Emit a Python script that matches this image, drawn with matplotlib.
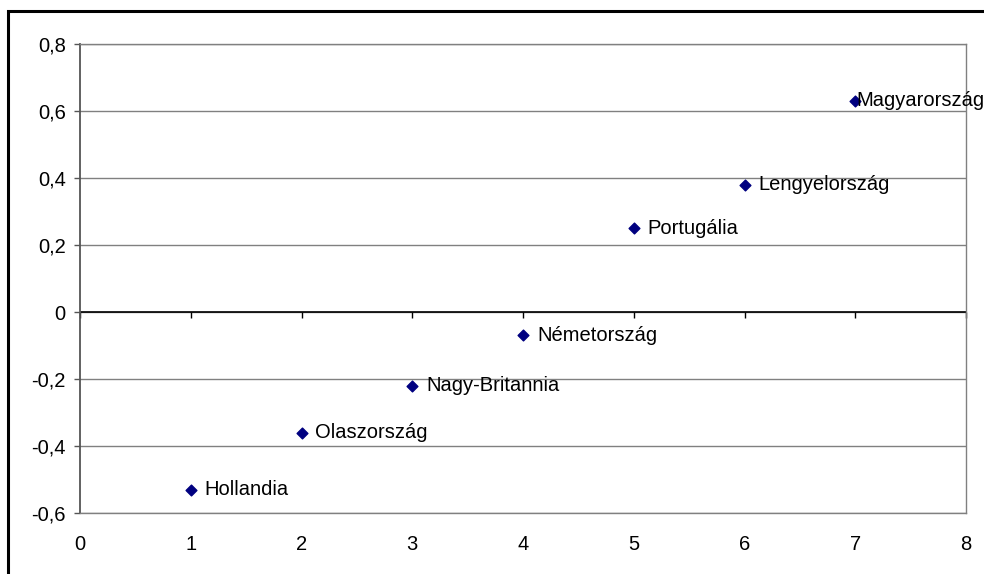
import matplotlib.pyplot as plt
from matplotlib.patches import Rectangle
from matplotlib.ticker import FixedLocator

# country ranking data
countries = ['Hollandia', 'Olaszország', 'Nagy-Britannia', 'Németország',
             'Portugália', 'Lengyelország', 'Magyarország']
x_vals = [1, 2, 3, 4, 5, 6, 7]
y_vals = [-0.53, -0.36, -0.22, -0.07, 0.25, 0.38, 0.63]
y_ticks = [-0.6, -0.4, -0.2, 0, 0.2, 0.4, 0.6, 0.8]
x_ticks = [0, 1, 2, 3, 4, 5, 6, 7, 8]

plt.rcParams['font.family'] = ['Liberation Sans', 'DejaVu Sans']

W, H = 984, 574
fig = plt.figure(figsize=(W / 100, H / 100), dpi=100)

# outer chart border (runs off the right and bottom edges)
fig.patches.append(Rectangle((8 / W, -0.1), 1.2, 1 - 11 / H + 0.1,
                             transform=fig.transFigure, fill=False,
                             edgecolor='black', linewidth=2.2))

ax = fig.add_axes([80 / W, (H - 513) / H, (966 - 80) / W, (513 - 44) / H])
ax.set_xlim(0, 8)
ax.set_ylim(-0.6, 0.8)

for yt in y_ticks:
    ax.axhline(yt, color='#808080', linewidth=1.0, zorder=0)
ax.axhline(0, color='black', linewidth=1.2, zorder=1)

for name in ['right', 'bottom', 'top']:
    ax.spines[name].set_color('#808080')
    ax.spines[name].set_linewidth(1.0)
ax.spines['left'].set_color('#555555')
ax.spines['left'].set_linewidth(1.3)

ax.set_yticks(y_ticks)
ax.set_yticklabels([('%g' % v).replace('.', ',') for v in y_ticks])
ax.tick_params(axis='y', direction='out', length=4.3, width=1, color='#555555',
               pad=6, labelsize=14.5)
ax.set_xticks(x_ticks)
ax.set_xticklabels([str(v) for v in x_ticks])
ax.tick_params(axis='x', length=0, pad=16, labelsize=14.5)

# x axis line crosses at y = 0 with its own tick marks
sec = ax.secondary_xaxis(0.6 / 1.4)
sec.xaxis.set_major_locator(FixedLocator(x_ticks))
sec.tick_params(direction='out', length=4.3, width=1, color='black', labelbottom=False)
sec.spines['bottom'].set_visible(False)

ax.scatter(x_vals, y_vals, marker='D', s=30, color='#000080', zorder=3)

for i, (xv, yv, name) in enumerate(zip(x_vals, y_vals, countries)):
    off = 1 if i == len(countries) - 1 else 10
    ax.annotate(name, (xv, yv), xytext=(off, 0), textcoords='offset points',
                va='center', ha='left', fontsize=14.5, annotation_clip=False,
                zorder=4)

fig.savefig('out.png', dpi=100)
